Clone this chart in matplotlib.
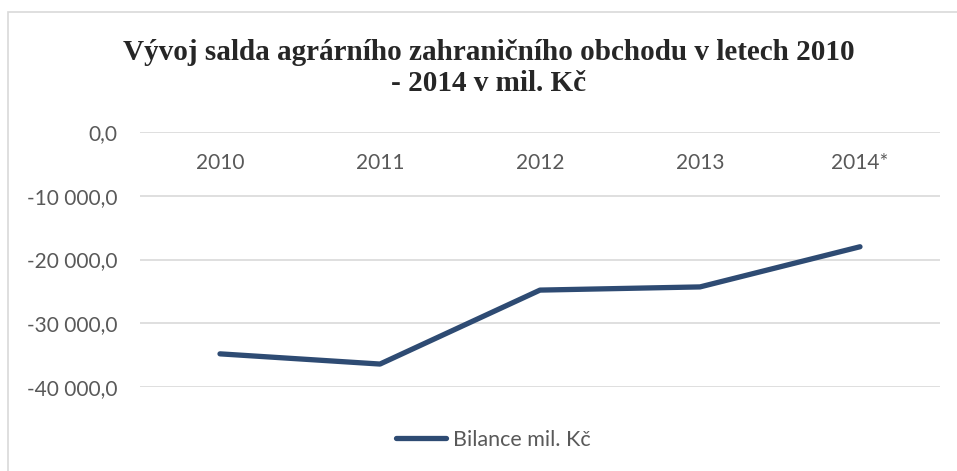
import matplotlib.pyplot as plt
from matplotlib.ticker import FuncFormatter, MultipleLocator
from matplotlib.patches import Rectangle

# data
years = ["2010", "2011", "2012", "2013", "2014*"]
bilance = [-34800, -36400, -24800, -24300, -18000]

line_color = "#2E4B73"
grid_color = "#D9D9D9"
text_color = "#595959"

fig = plt.figure(figsize=(9.57, 4.71), dpi=100)
ax = fig.add_axes([140 / 957, 1 - 387 / 471, 800 / 957, 255 / 471])

# chart frame (runs past the right and bottom edges)
fig.patches.append(Rectangle((8 / 957, -0.1), 1.2, 1 - 12 / 471 + 0.1,
                             transform=fig.transFigure, fill=False,
                             edgecolor="#D9D9D9", linewidth=1.2))

x = range(len(years))
ax.plot(x, bilance, color=line_color, linewidth=3.8, solid_capstyle="round",
        label="Bilance mil. Kč")

ax.set_xlim(-0.5, len(years) - 0.5)
ax.set_ylim(-40000, 0)
ax.yaxis.set_major_locator(MultipleLocator(10000))


def cz_fmt(v, pos):
    s = f"{abs(v):,.1f}".replace(",", " ").replace(".", ",")
    return ("-" if v < 0 else "") + s


ax.yaxis.set_major_formatter(FuncFormatter(cz_fmt))
ax.grid(axis="y", color=grid_color, linewidth=1.2)
ax.set_axisbelow(True)
for s in ax.spines.values():
    s.set_visible(False)
ax.spines["bottom"].set_position(("data", 0))

ax.set_xticks(list(x))
ax.set_xticklabels(years)
ax.tick_params(axis="x", length=0, pad=15, labelsize=15, labelcolor=text_color)
ax.tick_params(axis="y", length=0, pad=16, labelsize=15, labelcolor=text_color)
for lab in ax.get_xticklabels() + ax.get_yticklabels():
    lab.set_fontfamily("Lato")

fig.text(489 / 957, 1 - 68 / 471,
         "Vývoj salda agrárního zahraničního obchodu v letech 2010\n- 2014 v mil. Kč",
         ha="center", va="center", fontsize=21, fontweight="bold",
         family="Liberation Serif", color="#262626", linespacing=1.2)

leg = fig.legend(loc="center", bbox_to_anchor=(493 / 957, 1 - 440 / 471),
                 frameon=False, handlelength=2.35, handletextpad=0.3,
                 prop={"family": "Lato", "size": 15.5})
for t in leg.get_texts():
    t.set_color(text_color)

fig.savefig("out.png", dpi=100)
